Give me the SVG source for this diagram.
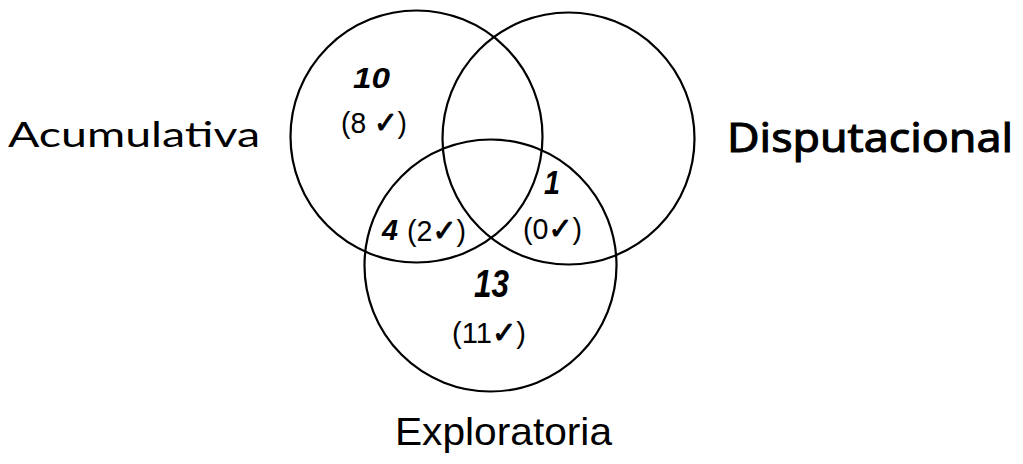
<svg xmlns="http://www.w3.org/2000/svg" width="1023" height="464" viewBox="0 0 1023 464">
<style>
.c{fill:none;stroke:#000;stroke-width:2.2}
.n{font-family:"Liberation Sans",Arial,sans-serif;font-weight:bold;font-style:italic;fill:#000}
.p{font-family:"Liberation Sans",Arial,sans-serif;font-size:30px;fill:#000}
.k{font-family:"DejaVu Sans",sans-serif;font-weight:bold;stroke:#000;stroke-width:1}
.lab{fill:#000}
</style>
<rect width="1023" height="464" fill="#fff"/>
<g id="acumulativa">
<circle class="c" cx="416.5" cy="136.5" r="126"/>
<text class="lab" x="8" y="147" font-family="Lato, 'Liberation Sans', sans-serif" font-size="35" textLength="252" lengthAdjust="spacingAndGlyphs">Acumulativa</text>
</g>
<g id="disputacional">
<circle class="c" cx="568.5" cy="138.5" r="126"/>
<text class="lab" x="727" y="152" font-family="'Noto Sans', 'Liberation Sans', sans-serif" font-size="40" stroke="#000" stroke-width="1" textLength="286" lengthAdjust="spacingAndGlyphs">Disputacional</text>
</g>
<g id="exploratoria">
<circle class="c" cx="490.5" cy="265.5" r="126"/>
<text class="lab" x="395" y="445" font-family="'Liberation Sans', Arial, sans-serif" font-size="39" textLength="217" lengthAdjust="spacingAndGlyphs">Exploratoria</text>
</g>
<g id="region-acumulativa">
<text class="n" x="353" y="88" font-size="30" textLength="37" lengthAdjust="spacingAndGlyphs">10</text>
<text class="p" x="341" y="133" textLength="66" lengthAdjust="spacingAndGlyphs">(8 <tspan class="k">✓</tspan>)</text>
</g>
<g id="region-acum-expl">
<text class="n" x="382" y="240" font-size="29" textLength="16" lengthAdjust="spacingAndGlyphs">4</text>
<text class="p" x="407" y="241" textLength="59" lengthAdjust="spacingAndGlyphs">(2<tspan class="k">✓</tspan>)</text>
</g>
<g id="region-disp-expl">
<text class="n" x="544" y="194" font-size="34" textLength="16" lengthAdjust="spacingAndGlyphs">1</text>
<text class="p" x="523" y="239" textLength="59" lengthAdjust="spacingAndGlyphs">(0<tspan class="k">✓</tspan>)</text>
</g>
<g id="region-exploratoria">
<text class="n" x="474" y="297" font-size="38" textLength="35" lengthAdjust="spacingAndGlyphs">13</text>
<text class="p" x="452" y="343" textLength="74" lengthAdjust="spacingAndGlyphs">(11<tspan class="k">✓</tspan>)</text>
</g>
</svg>
